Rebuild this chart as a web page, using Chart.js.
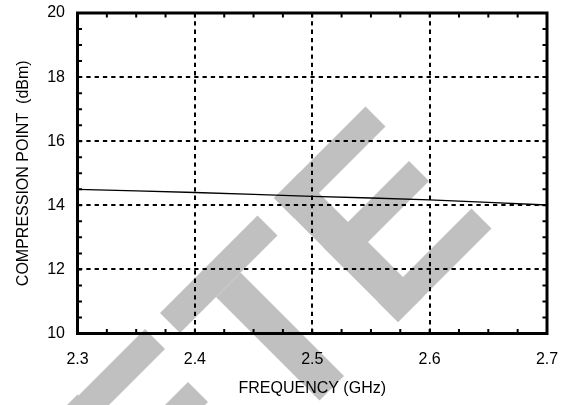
<!DOCTYPE html>
<html>
<head>
<meta charset="utf-8">
<script src="https://cdn.jsdelivr.net/npm/chart.js@4.4.1/dist/chart.umd.min.js"></script>
<style>
  html, body { margin: 0; padding: 0; background: #ffffff; }
  #wrap { width: 565px; height: 405px; }
</style>
</head>
<body>
<div id="wrap"><canvas id="c" width="565" height="405"></canvas></div>
<script>
// ---- data ----
const frequencyGHz = [2.3, 2.4, 2.5, 2.6, 2.7];
const compressionDbm = [14.50, 14.40, 14.28, 14.17, 14.01];
const xTickLabels = ["2.3", "2.4", "2.5", "2.6", "2.7"];
const yTickLabels = ["10", "12", "14", "16", "18", "20"];
const xTitle = "FREQUENCY (GHz)";
const yTitle = "COMPRESSION POINT  (dBm)";

// watermark strokes for the visible letters "E", "T", "E" (rotated -45deg),
// in (p = x - y, q = x + y) coordinates
const watermarkStrokes = [
  // E (left)
  [-367, -317, 472, 720], [-367, -184, 474, 514], [-367, -194, 570, 610], [-367, -180, 680, 720],
  // T
  [-153, 42, 473, 513], [-81, -32, 513, 720],
  // E (right)
  [76, 126, 472, 720], [76, 259, 472, 512], [76, 248, 570, 610], [76, 263, 680, 720]
];

const FONT = "'Liberation Sans', Arial, Helvetica, sans-serif";

const watermarkPlugin = {
  id: 'watermark',
  beforeDraw(chart) {
    const ctx = chart.ctx;
    ctx.save();
    ctx.fillStyle = '#ffffff';
    ctx.fillRect(0, 0, chart.width, chart.height);
    ctx.fillStyle = 'rgb(192,192,192)';
    for (const [p0, p1, q0, q1] of watermarkStrokes) {
      const pts = [[p0, q0], [p1, q0], [p1, q1], [p0, q1]].map(([p, q]) => [(p + q) / 2, (q - p) / 2]);
      ctx.beginPath();
      ctx.moveTo(pts[0][0], pts[0][1]);
      for (let i = 1; i < 4; i++) ctx.lineTo(pts[i][0], pts[i][1]);
      ctx.closePath();
      ctx.fill();
    }
    ctx.restore();
  }
};

const framePlugin = {
  id: 'frame',
  afterDraw(chart) {
    const {ctx, chartArea: a, scales: {x, y}} = chart;
    ctx.save();
    ctx.strokeStyle = '#000';
    ctx.lineWidth = 2;
    ctx.beginPath();
    const tl = 4.5;
    for (let v = 10.5; v < 20; v += 0.5) {
      const py = y.getPixelForValue(v);
      ctx.moveTo(a.left, py); ctx.lineTo(a.left + tl, py);
      ctx.moveTo(a.right, py); ctx.lineTo(a.right - tl, py);
    }
    for (let i = 1; i < 16; i++) {
      const px = x.getPixelForValue(2.3 + i * 0.025);
      ctx.moveTo(px, a.top); ctx.lineTo(px, a.top + tl);
      ctx.moveTo(px, a.bottom); ctx.lineTo(px, a.bottom - tl);
    }
    ctx.stroke();
    ctx.lineWidth = 3;
    ctx.strokeRect(a.left, a.top, a.right - a.left, a.bottom - a.top);
    ctx.restore();
  }
};

const gridColor = (ctx) => {
  const n = ctx.scale.ticks.length;
  return (ctx.index === 0 || ctx.index === n - 1) ? 'rgba(0,0,0,0)' : '#000';
};

const chart = new Chart(document.getElementById('c'), {
  type: 'line',
  data: {
    datasets: [{
      data: frequencyGHz.map((f, i) => ({x: f, y: compressionDbm[i]})),
      borderColor: '#000',
      borderWidth: 1.3,
      pointRadius: 0,
      tension: 0.3,
      fill: false
    }]
  },
  options: {
    responsive: false,
    animation: false,
    devicePixelRatio: 1,
    layout: { padding: { left: 0, top: 13, right: 18, bottom: 0 } },
    plugins: { legend: { display: false }, tooltip: { enabled: false } },
    scales: {
      x: {
        type: 'linear', min: 2.3, max: 2.7,
        afterFit(s) { s.height = 71.5; s.paddingLeft = 0; s.paddingRight = 0; },
        ticks: {
          stepSize: 0.1, padding: 16, color: '#000',
          font: { family: FONT, size: 16 },
          maxRotation: 0,
          callback: (v, i) => xTickLabels[i]
        },
        grid: { color: gridColor, lineWidth: 2, drawTicks: false },
        border: { display: false, dash: [4.3, 4] },
        title: { display: true, text: xTitle, color: '#000', font: { family: FONT, size: 16 }, padding: { top: 0, bottom: 6.5 } }
      },
      y: {
        type: 'linear', min: 10, max: 20,
        afterFit(s) { s.width = 77.5; s.paddingTop = 0; s.paddingBottom = 0; },
        ticks: {
          stepSize: 2, padding: 12.5, color: '#000',
          font: { family: FONT, size: 16 },
          callback: (v, i) => yTickLabels[i]
        },
        grid: { color: gridColor, lineWidth: 2, drawTicks: false },
        border: { display: false, dash: [4.3, 4] },
        title: { display: true, text: yTitle, color: '#000', font: { family: FONT, size: 16 }, padding: { top: 14, bottom: 0 } }
      }
    }
  },
  plugins: [watermarkPlugin, framePlugin]
});

// nudge layout padding so the plot frame lands where the reference has it
const target = { left: 77.5, top: 13, right: 547, bottom: 333.5 };
for (let k = 0; k < 4; k++) {
  const a = chart.chartArea;
  const pad = chart.options.layout.padding;
  const dl = target.left - a.left, dt = target.top - a.top;
  const dr = a.right - target.right, db = a.bottom - target.bottom;
  if (Math.abs(dl) + Math.abs(dt) + Math.abs(dr) + Math.abs(db) < 0.2) break;
  pad.left += dl; pad.top += dt; pad.right += dr; pad.bottom += db;
  chart.update();
}
</script>
</body>
</html>
